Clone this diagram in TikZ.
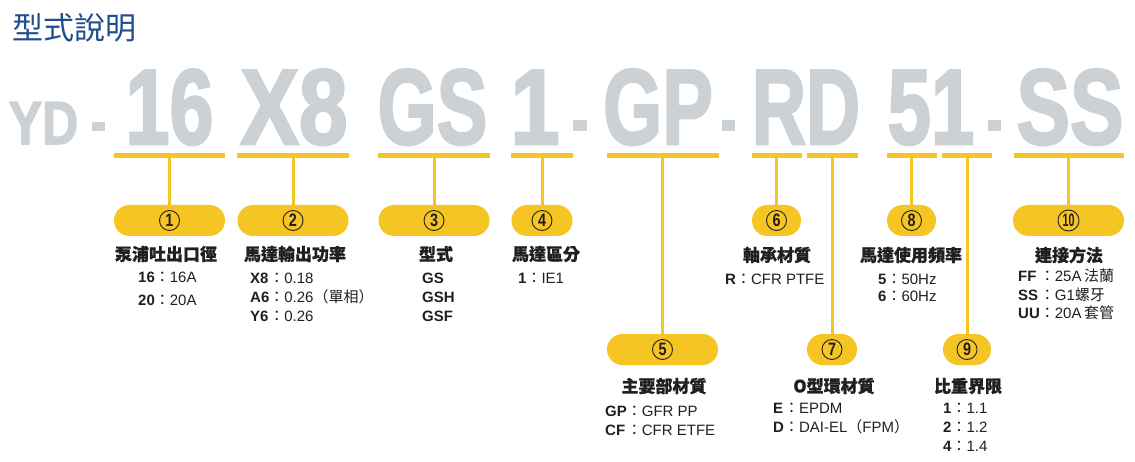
\documentclass[tikz,border=0pt]{standalone}
\usepackage{fontspec}
\usepackage{graphicx}
\setmainfont{Liberation Sans}
\newfontfamily\cjk{Noto Sans CJK TC}
\newfontfamily\cjkh{Noto Sans CJK TC}[BoldFeatures={FakeBold=0.8}]
\newfontfamily\bigfont{Liberation Sans Bold}[FakeBold=2.5]
\definecolor{ygold}{HTML}{F5C523}
\definecolor{lgray}{HTML}{CCD1D5}
\definecolor{tblue}{HTML}{1F4E8C}
\definecolor{ink}{HTML}{231F20}
\newcommand{\fwc}{{\cjk ：}}
\newcommand{\vtab}[2]{\fontsize{15}{#1}\selectfont\begin{tabular}[t]{@{}l@{}l@{}l@{}}#2\end{tabular}}
\tikzset{
  barbox/.style={fill=ygold, draw=none, minimum height=5pt, inner sep=0pt, anchor=north},
  pillbox/.style={fill=ygold, draw=none, rounded corners=15.5pt, minimum height=31pt, inner sep=0pt},
  numbox/.style={circle, draw=ink, line width=0.9pt, minimum size=20pt, inner sep=0pt, text=ink, font=\bfseries\fontsize{18}{18}\selectfont},
  stemline/.style={draw=ygold, line width=3pt},
  headbox/.style={inner sep=0pt, text=ink, font=\cjkh\bfseries\fontsize{17}{17}\selectfont},
  valbox/.style={anchor=base west, inner sep=0pt, text=ink},
  bigbox/.style={anchor=base, inner sep=0pt, text=lgray, font=\bigfont\fontsize{107}{107}\selectfont},
  dashbox/.style={fill=lgray, draw=none}
}
\begin{document}
\begin{tikzpicture}[x=1pt,y=-1pt]
\useasboundingbox (0,0) rectangle (1135,462);
\fill[white] (0,0) rectangle (1135,462);

% title
\node[anchor=west, inner sep=0pt, text=tblue, font=\cjk\fontsize{31}{31}\selectfont] (title) at (12,27.5) {型式說明};

% big model code
\node[bigbox, font=\bigfont\fontsize{61}{61}\selectfont] (wYD) at (43.5,144) {\scalebox{0.82}[1]{YD}};
\node[bigbox] (w16) at (169.5,144) {\scalebox{0.74}[1]{16}};
\node[bigbox] (wX8) at (294,144) {\scalebox{0.82}[1]{X8}};
\node[bigbox] (wGS) at (432.5,144) {\scalebox{0.71}[1]{GS}};
\node[bigbox] (w1) at (535,144) {\scalebox{0.83}[1]{1}};
\node[bigbox] (wGP) at (658,144) {\scalebox{0.71}[1]{GP}};
\node[bigbox] (wRD) at (806,144) {\scalebox{0.70}[1]{RD}};
\node[bigbox] (w51) at (931,144) {\scalebox{0.73}[1]{51}};
\node[bigbox] (wSS) at (1070,144) {\scalebox{0.75}[1]{SS}};
\fill[dashbox] (92,122) rectangle (105,131);
\fill[dashbox] (573,120) rectangle (587,131);
\fill[dashbox] (722,120) rectangle (735,131);
\fill[dashbox] (988,120) rectangle (1001,131);

% underline bars
\node[barbox, minimum width=111pt] (b1) at (169.5,153) {};
\node[barbox, minimum width=112pt] (b2) at (293,153) {};
\node[barbox, minimum width=112pt] (b3) at (434,153) {};
\node[barbox, minimum width=62pt] (b4) at (542,153) {};
\node[barbox, minimum width=112pt] (b5) at (662.5,153) {};
\node[barbox, minimum width=50pt] (b6) at (776.5,153) {};
\node[barbox, minimum width=51pt] (b7) at (832,153) {};
\node[barbox, minimum width=50pt] (b8) at (911.5,153) {};
\node[barbox, minimum width=50pt] (b9) at (967,153) {};
\node[barbox, minimum width=110pt] (b10) at (1068.5,153) {};

% pill positions
\path (169.5,220.5) coordinate (c1) (293,220.5) coordinate (c2) (434,220.5) coordinate (c3)
      (542,220.5) coordinate (c4) (662.5,349.5) coordinate (c5) (776.5,220.5) coordinate (c6)
      (832,349.5) coordinate (c7) (911.5,220.5) coordinate (c8) (967,349.5) coordinate (c9)
      (1068.5,220.5) coordinate (c10);

\node[pillbox, minimum width=111pt] (p1) at (c1) {};
\node[pillbox, minimum width=111pt] (p2) at (c2) {};
\node[pillbox, minimum width=111pt] (p3) at (c3) {};
\node[pillbox, minimum width=61pt] (p4) at (c4) {};
\node[pillbox, minimum width=111pt] (p5) at (c5) {};
\node[pillbox, minimum width=49pt] (p6) at (c6) {};
\node[pillbox, minimum width=50pt] (p7) at (c7) {};
\node[pillbox, minimum width=49pt] (p8) at (c8) {};
\node[pillbox, minimum width=48pt] (p9) at (c9) {};
\node[pillbox, minimum width=111pt] (p10) at (c10) {};

% stems
\foreach \i in {1,...,10} \draw[stemline] (b\i.south) -- (p\i.north);

% circled numbers
\foreach \i in {1,...,9} \node[numbox] (n\i) at (p\i) {\scalebox{0.8}[1]{\i}};
\node[numbox, minimum size=21pt] (n10) at (p10) {\scalebox{0.6}[1]{10}};

% headings
\node[headbox] (h1) at (166,254) {泵浦吐出口徑};
\node[headbox] (h2) at (295,254) {馬達輸出功率};
\node[headbox] (h3) at (436,254) {型式};
\node[headbox] (h4) at (546,254) {馬達區分};
\node[headbox] (h6) at (777,255) {軸承材質};
\node[headbox] (h8) at (911,255) {馬達使用頻率};
\node[headbox] (h10) at (1069,255) {連接方法};
\node[headbox] (h5) at (664,386) {主要部材質};
\node[headbox] (h7) at (834,386) {O型環材質};
\node[headbox] (h9) at (968,386) {比重界限};

% values
\node[valbox] (v1) at (138,283) {\vtab{23}{\textbf{16}&\fwc&16A\\ \textbf{20}&\fwc&20A}};
\node[valbox] (v2) at (250,284) {\vtab{18.5}{\textbf{X8}&\fwc&0.18\\ \textbf{A6}&\fwc&0.26{\cjk（單相）}\\ \textbf{Y6}&\fwc&0.26}};
\node[valbox] (v3) at (422,284) {\vtab{18.5}{\textbf{GS}\\ \textbf{GSH}\\ \textbf{GSF}}};
\node[valbox] (v4) at (518,284) {\vtab{18.5}{\textbf{1}&\fwc&IE1}};
\node[valbox] (v6) at (725,285) {\vtab{18.5}{\textbf{R}&\fwc&CFR PTFE}};
\node[valbox] (v8) at (878,285) {\vtab{16.5}{\textbf{5}&\fwc&50Hz\\ \textbf{6}&\fwc&60Hz}};
\node[valbox] (v10) at (1018,282) {\vtab{18.5}{\textbf{FF}&\fwc&25A\,{\cjk 法蘭}\\ \textbf{SS}&\fwc&G1{\cjk 螺牙}\\ \textbf{UU}&\fwc&20A\,{\cjk 套管}}};
\node[valbox] (v5) at (605,416) {\vtab{19}{\textbf{GP}&\fwc&GFR PP\\ \textbf{CF}&\fwc&CFR ETFE}};
\node[valbox] (v7) at (773,413) {\vtab{19}{\textbf{E}&\fwc&EPDM\\ \textbf{D}&\fwc&DAI-EL{\cjk（}FPM{\cjk）}}};
\node[valbox] (v9) at (943,413) {\vtab{19}{\textbf{1}&\fwc&1.1\\ \textbf{2}&\fwc&1.2\\ \textbf{4}&\fwc&1.4}};
\end{tikzpicture}
\end{document}
